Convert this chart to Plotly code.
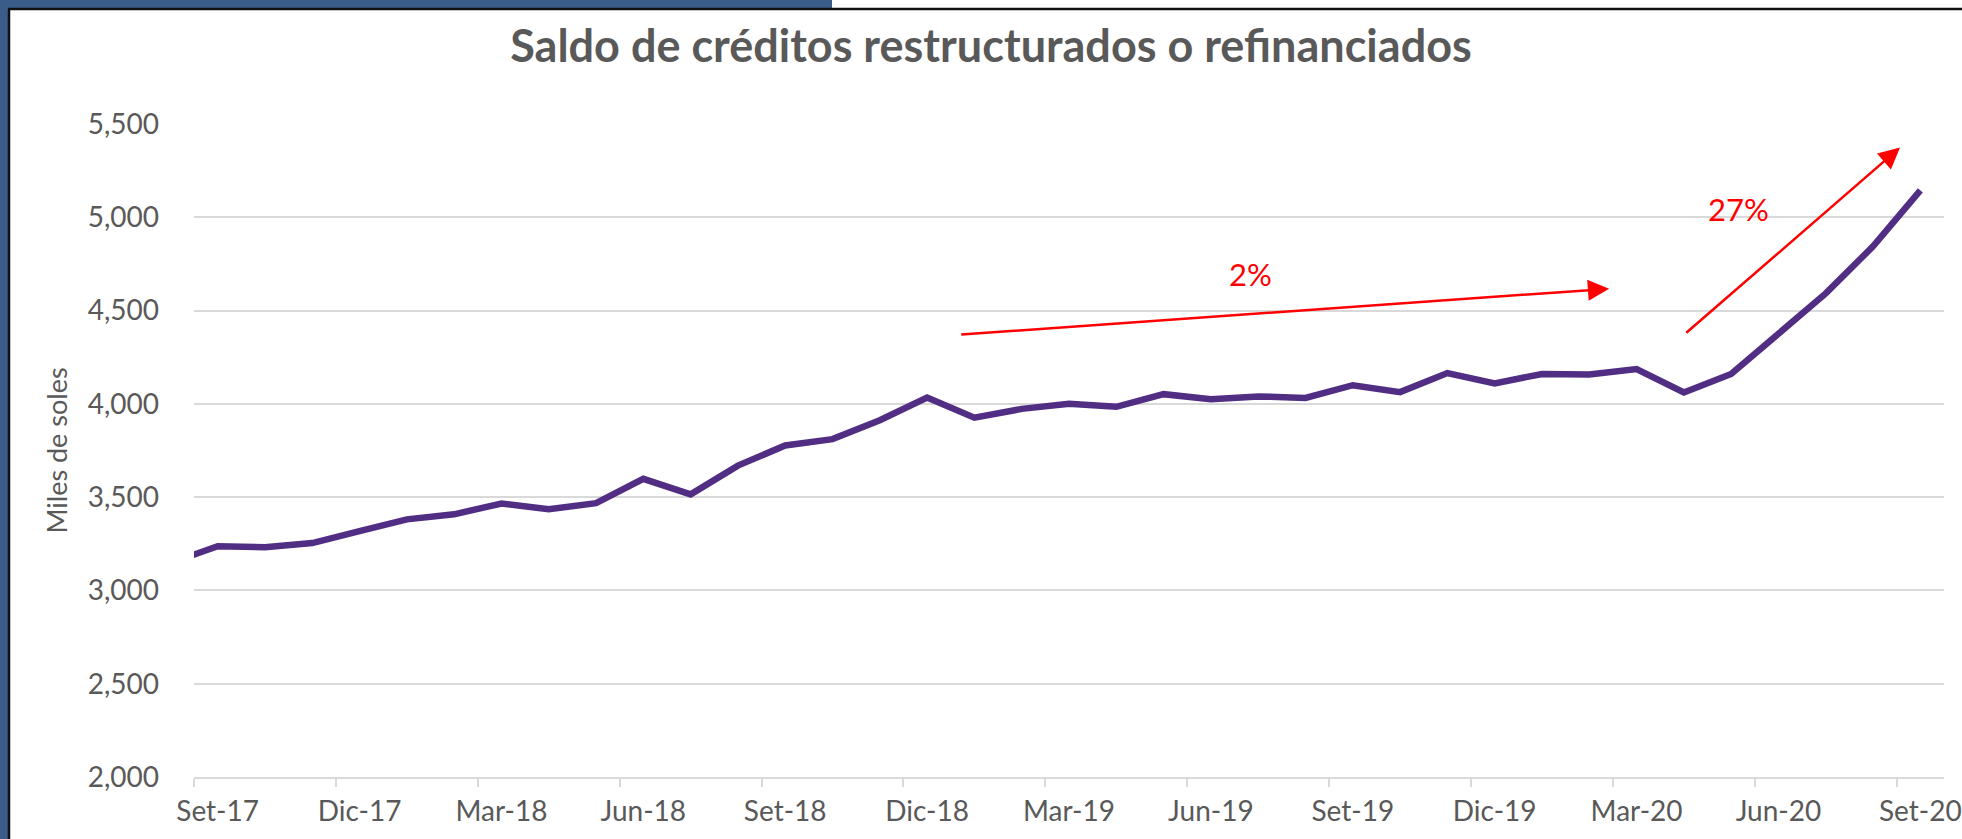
import plotly.graph_objects as go

# ---------------- data ----------------
# first entry (Ago-17) is the month before the visible window; its segment is clipped at the axis
months = ["Ago-17",
          "Set-17", "Oct-17", "Nov-17", "Dic-17",
          "Ene-18", "Feb-18", "Mar-18", "Abr-18", "May-18", "Jun-18",
          "Jul-18", "Ago-18", "Set-18", "Oct-18", "Nov-18", "Dic-18",
          "Ene-19", "Feb-19", "Mar-19", "Abr-19", "May-19", "Jun-19",
          "Jul-19", "Ago-19", "Set-19", "Oct-19", "Nov-19", "Dic-19",
          "Ene-20", "Feb-20", "Mar-20", "Abr-20", "May-20", "Jun-20",
          "Jul-20", "Ago-20", "Set-20"]
saldo = [3147,
         3237, 3232, 3254, 3318,
         3381, 3408, 3466, 3435, 3468, 3598,
         3515, 3669, 3777, 3811, 3912, 4034,
         3926, 3973, 4000, 3984, 4052, 4025,
         4040, 4032, 4100, 4063, 4165, 4110,
         4160, 4157, 4187, 4061, 4160, 4376,
         4592, 4844, 5144]
tick_labels = ["Set-17", "Dic-17", "Mar-18", "Jun-18", "Set-18", "Dic-18",
               "Mar-19", "Jun-19", "Set-19", "Dic-19", "Mar-20", "Jun-20", "Set-20"]
y_ticks = [2000, 2500, 3000, 3500, 4000, 4500, 5000, 5500]

# month index: Set-17 = 0
x_idx = [i - 1 for i in range(len(months))]
label_pos = [months.index(m) - 1 for m in tick_labels]
band_edges = [p - 0.5 for p in label_pos]

W, H = 1962, 839
ML, MR, MT, MB = 194, 18, 124, 62
PW, PH = W - ML - MR, H - MT - MB

def px(xp):
    return (xp - ML) / PW

def py(yp):
    return (H - MB - yp) / PH

FONT = "Lato"
GRAY = "#595959"
GRID = "#d9d9d9"
RED = "#ff0000"
BLUE = "#3a5c88"

fig = go.Figure()
fig.add_trace(go.Scatter(
    x=x_idx, y=saldo, mode="lines",
    line=dict(color="#512d84", width=6.5),
    hoverinfo="x+y", showlegend=False,
))

annotations = [
    # 2% arrow
    dict(x=29.42, y=4617, ax=15.69, ay=4371, xref="x", yref="y", axref="x", ayref="y",
         showarrow=True, arrowhead=2, arrowsize=1.7, arrowwidth=2.5, arrowcolor=RED,
         standoff=0, text=""),
    # 27% arrow
    dict(x=35.57, y=5374, ax=31.02, ay=4374, xref="x", yref="y", axref="x", ayref="y",
         showarrow=True, arrowhead=2, arrowsize=1.7, arrowwidth=2.5, arrowcolor=RED,
         standoff=0, text=""),
    dict(x=21.83, y=4696, xref="x", yref="y", text="2%", showarrow=False,
         font=dict(family=FONT, size=31, color=RED)),
    dict(x=32.16, y=5044, xref="x", yref="y", text="27%", showarrow=False,
         font=dict(family=FONT, size=31, color=RED)),
]

shapes = [
    # dark blue frame strips
    dict(type="rect", xref="paper", yref="paper", x0=px(0), x1=px(8), y0=py(H), y1=py(0),
         fillcolor=BLUE, line=dict(width=0), layer="above"),
    dict(type="rect", xref="paper", yref="paper", x0=px(0), x1=px(832), y0=py(8), y1=py(0),
         fillcolor=BLUE, line=dict(width=0), layer="above"),
    # black border lines
    dict(type="line", xref="paper", yref="paper", x0=px(9), x1=px(9), y0=py(H), y1=py(9),
         line=dict(color="#111111", width=2.5), layer="above"),
    dict(type="line", xref="paper", yref="paper", x0=px(8), x1=px(W), y0=py(9), y1=py(9),
         line=dict(color="#111111", width=2.5), layer="above"),
]

fig.update_layout(
    width=W, height=H,
    margin=dict(l=ML, r=MR, t=MT, b=MB, pad=0, autoexpand=False),
    paper_bgcolor="white", plot_bgcolor="white",
    title=dict(text="<b>Saldo de créditos restructurados o refinanciados</b>",
               x=991 / W, xref="container", xanchor="center",
               y=1 - 46 / H, yref="container", yanchor="middle",
               font=dict(family=FONT, size=45, color=GRAY)),
    annotations=annotations,
    shapes=shapes,
    showlegend=False,
)

fig.update_xaxes(
    range=[-0.5, len(months) - 1.5],
    tickmode="array", tickvals=label_pos, ticktext=tick_labels,
    ticks="", showgrid=False, zeroline=False, automargin=False,
    showline=True, linecolor=GRID, linewidth=2,
    tickfont=dict(family=FONT, size=28, color=GRAY),
    ticklabelstandoff=8,
    minor=dict(tickmode="array", tickvals=band_edges, ticks="outside",
               ticklen=8, tickwidth=2, tickcolor=GRID, showgrid=False),
)
fig.update_yaxes(
    range=[2000, 5500], tickmode="array", tickvals=y_ticks,
    tickformat=",", showgrid=True, gridcolor=GRID, gridwidth=2,
    zeroline=False, showline=False, ticks="", automargin=False,
    tickfont=dict(family=FONT, size=28, color=GRAY),
    ticklabelstandoff=34,
    title=dict(text="Miles de soles", standoff=12,
               font=dict(family=FONT, size=27, color=GRAY)),
)

fig.write_html("out.html", config={"displayModeBar": False},
               post_script="document.body.style.margin='0';document.body.style.overflow='hidden';")
